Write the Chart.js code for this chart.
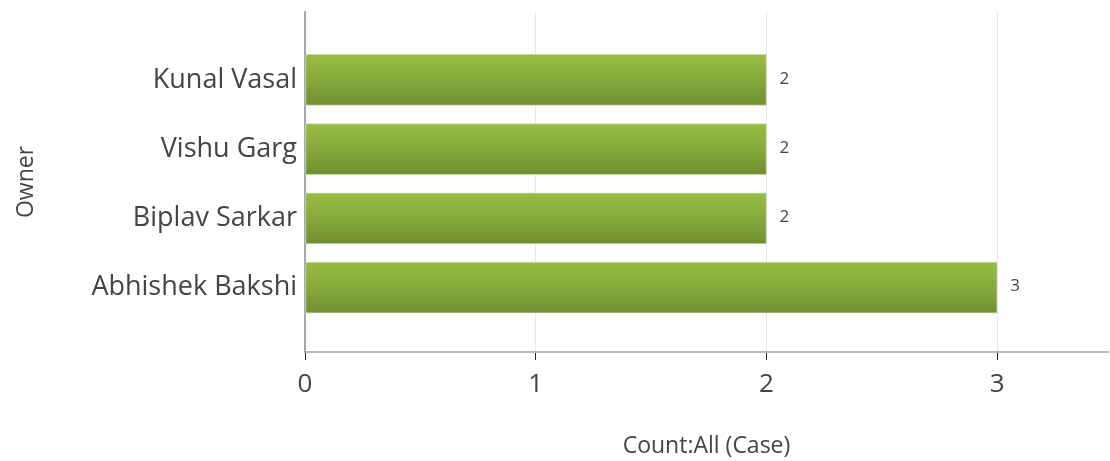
<!DOCTYPE html>
<html>
<head>
<meta charset="utf-8">
<script src="https://cdn.jsdelivr.net/npm/chart.js@4"></script>
<style>
  html, body { margin: 0; padding: 0; background: #fff; }
  #wrap { width: 1110px; height: 461px; }
</style>
</head>
<body>
<div id="wrap"><canvas id="myChart" width="1110" height="461"></canvas></div>
<script>
// Datos de la gráfica
const owners = ['Kunal Vasal', 'Vishu Garg', 'Biplav Sarkar', 'Abhishek Bakshi'];
const counts = [2, 2, 2, 3];
const xTicks = [0, 1, 2, 3];

const textColor = '#444444';
const fontFamily = "'Open Sans', 'DejaVu Sans', sans-serif";

// Etiquetas de valor a la derecha de cada barra
const valueLabels = {
    id: 'valueLabels',
    afterDatasetsDraw(chart) {
        const ctx = chart.ctx;
        const meta = chart.getDatasetMeta(0);
        ctx.save();
        ctx.fillStyle = textColor;
        ctx.font = '17px ' + fontFamily;
        ctx.textBaseline = 'middle';
        meta.data.forEach(function(bar, i) {
            ctx.fillText(String(counts[i]), bar.x + 13, bar.y - 1);
        });
        ctx.restore();
    }
};

const ctx = document.getElementById('myChart').getContext('2d');
const myChart = new Chart(ctx, {
    type: 'bar',
    data: {
        datasets: [{
            label: 'Count:All (Case)',
            data: counts.map(function(v, i) { return { x: v, y: i }; }),
            backgroundColor: function(context) {
                const chart = context.chart;
                const yScale = chart.scales.y;
                if (!yScale || context.dataIndex === undefined) return '#86a93a';
                const cy = yScale.getPixelForValue(context.dataIndex);
                if (!isFinite(cy)) return '#86a93a';
                const g = chart.ctx.createLinearGradient(0, cy - 25, 0, cy + 25);
                g.addColorStop(0, '#97bd42');
                g.addColorStop(0.5, '#86aa3b');
                g.addColorStop(1, '#6f8f30');
                return g;
            },
            borderColor: '#c9d8ad',
            borderWidth: 1,
            borderSkipped: false,
            barThickness: 51
        }]
    },
    options: {
        indexAxis: 'y',
        responsive: false,
        animation: false,
        layout: { padding: { top: 12, right: 2, left: 0, bottom: 0 } },
        plugins: {
            legend: { display: false },
            tooltip: { enabled: false }
        },
        scales: {
            x: {
                type: 'linear',
                min: 0,
                max: 3.48,
                afterBuildTicks: function(scale) {
                    scale.ticks = xTicks.map(function(v) { return { value: v }; });
                },
                afterFit: function(scale) {
                    scale.height = 109;
                    scale.paddingLeft = 0;
                    scale.paddingRight = 0;
                },
                grid: {
                    color: '#e6e7ee',
                    tickColor: '#222222',
                    tickLength: 8,
                    lineWidth: 1
                },
                border: { display: true, color: '#b4b8be', width: 2 },
                ticks: {
                    color: textColor,
                    font: { family: fontFamily, size: 26 },
                    padding: 9
                },
                title: {
                    display: true,
                    text: 'Count:All (Case)',
                    color: textColor,
                    font: { family: fontFamily, size: 23 },
                    padding: { top: 0, bottom: 1 }
                }
            },
            y: {
                type: 'linear',
                reverse: true,
                offset: false,
                min: -0.98,
                max: 3.93,
                afterBuildTicks: function(scale) {
                    scale.ticks = owners.map(function(o, i) { return { value: i }; });
                },
                afterFit: function(scale) {
                    scale.width = 305;
                    scale.paddingTop = 0;
                    scale.paddingBottom = 0;
                },
                grid: { display: false, drawTicks: false },
                border: { display: true, color: '#a4a8ae', width: 2 },
                ticks: {
                    color: textColor,
                    font: { family: fontFamily, size: 27 },
                    padding: 8,
                    callback: function(value) { return owners[value]; }
                },
                title: {
                    display: true,
                    text: 'Owner',
                    color: textColor,
                    font: { family: fontFamily, size: 23 },
                    padding: { top: 13, bottom: 0 }
                }
            }
        }
    },
    plugins: [valueLabels]
});
</script>
</body>
</html>
